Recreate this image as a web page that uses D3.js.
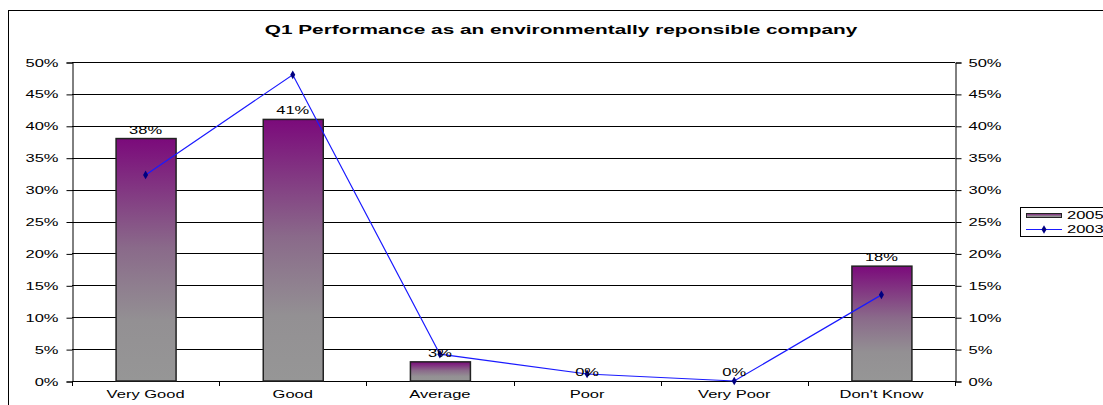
<!DOCTYPE html>
<html>
<head>
<meta charset="utf-8">
<script src="https://cdn.jsdelivr.net/npm/d3@7"></script>
<style>
  html, body { margin: 0; padding: 0; background: #fff; }
  svg { display: block; font-family: Arial, "Liberation Sans", sans-serif; }
</style>
</head>
<body>
<svg id="chart" width="1103" height="405"></svg>
<script>
// Survey answers and shares per year
const categories = ["Very Good", "Good", "Average", "Poor", "Very Poor", "Don't Know"];
const values2005 = [0.38, 0.41, 0.03, 0.00, 0.00, 0.18];
const values2003 = [0.323, 0.48, 0.042, 0.011, 0.00, 0.135];
const yTicks = [0, 0.05, 0.10, 0.15, 0.20, 0.25, 0.30, 0.35, 0.40, 0.45, 0.50];
const seriesNames = ["2005", "2003"];
const title = "Q1 Performance as an environmentally reponsible company";

// The chart's lettering is horizontally stretched
const textStretch = 1.5;
const titleStretch = 1.6;

const svg = d3.select("#chart");
const plot = { left: 72, right: 955, top: 62, bottom: 381 };

// Outer chart frame
svg.append("rect")
  .attr("x", 8.5).attr("y", 10.5)
  .attr("width", 1120).attr("height", 420)
  .attr("fill", "#fff").attr("stroke", "#000").attr("stroke-width", 1);

// Bar gradient: purple at the top fading to grey
const defs = svg.append("defs");
const grad = defs.append("linearGradient")
  .attr("id", "barFill").attr("x1", 0).attr("y1", 0).attr("x2", 0).attr("y2", 1);
grad.append("stop").attr("offset", "0%").attr("stop-color", "#7b0a7b");
grad.append("stop").attr("offset", "45%").attr("stop-color", "#8a6a8a");
grad.append("stop").attr("offset", "75%").attr("stop-color", "#939093");
grad.append("stop").attr("offset", "100%").attr("stop-color", "#969696");

const x = d3.scaleBand().domain(categories).range([plot.left, plot.right]);
const y = d3.scaleLinear().domain([0, 0.5]).range([plot.bottom, plot.top]);
const pct = d3.format(".0%");

// Horizontal gridlines
svg.append("g").selectAll("line").data(yTicks).join("line")
  .attr("x1", plot.left).attr("x2", plot.right)
  .attr("y1", d => Math.round(y(d)) + 0.5).attr("y2", d => Math.round(y(d)) + 0.5)
  .attr("stroke", "#000").attr("stroke-width", 1);

// Left and right value axes
const leftAxis = d3.axisLeft(y).tickValues(yTicks).tickFormat(pct).tickSizeOuter(0).tickSize(6);
const rightAxis = d3.axisRight(y).tickValues(yTicks).tickFormat(pct).tickSizeOuter(0).tickSize(6);
const gl = svg.append("g").attr("transform", `translate(${plot.left + 0.5},0.5)`).call(leftAxis);
const gr = svg.append("g").attr("transform", `translate(${plot.right + 0.5},0.5)`).call(rightAxis);
gl.selectAll(".tick text").attr("x", -14 / textStretch);
gr.selectAll(".tick text").attr("x", 13 / textStretch);

// Category axis with ticks between categories
const xAxis = d3.axisBottom(x).tickSize(0).tickPadding(9);
const gx = svg.append("g").attr("transform", `translate(0,${plot.bottom + 0.5})`).call(xAxis);
gx.select(".domain").attr("d", `M${plot.left},0H${plot.right}`);
svg.append("g").selectAll("line")
  .data(d3.range(categories.length + 1))
  .join("line")
  .attr("x1", i => Math.round(plot.left + i * x.step()) + 0.5)
  .attr("x2", i => Math.round(plot.left + i * x.step()) + 0.5)
  .attr("y1", plot.bottom).attr("y2", plot.bottom + 5)
  .attr("stroke", "#000");

svg.selectAll(".tick text").attr("font-size", 11).attr("fill", "#000")
  .attr("font-family", "Arial, 'Liberation Sans', sans-serif")
  .attr("transform", `scale(${textStretch},1)`);
svg.selectAll(".domain, .tick line").attr("stroke", "#000");

// 2005 bars
const barW = 60;
svg.append("g").selectAll("rect").data(categories).join("rect")
  .attr("x", (c) => x(c) + x.bandwidth() / 2 - barW / 2 + 0.5)
  .attr("y", (c, i) => y(values2005[i]))
  .attr("width", barW)
  .attr("height", (c, i) => y(0) - y(values2005[i]))
  .attr("fill", "url(#barFill)")
  .attr("stroke", (c, i) => values2005[i] > 0 ? "#222" : "none")
  .attr("stroke-width", 1.5);

// 2003 line with diamond markers
const line = d3.line()
  .x((d, i) => x(categories[i]) + x.bandwidth() / 2)
  .y(d => y(d));
svg.append("path").datum(values2003)
  .attr("d", line).attr("fill", "none")
  .attr("stroke", "#1a1aff").attr("stroke-width", 1.2);
svg.append("g").selectAll("path").data(values2003).join("path")
  .attr("d", d3.symbol(d3.symbolDiamond, 22))
  .attr("transform", (d, i) => `translate(${x(categories[i]) + x.bandwidth() / 2},${y(d)})`)
  .attr("fill", "#000080");

// Value labels for the 2005 bars
svg.append("g").selectAll("text").data(categories).join("text")
  .attr("transform", (c, i) =>
    `translate(${x(c) + x.bandwidth() / 2},${y(values2005[i]) - 5}) scale(${textStretch},1)`)
  .attr("text-anchor", "middle")
  .attr("font-size", 11).attr("fill", "#000")
  .text((c, i) => pct(values2005[i]));

// Title
svg.append("text")
  .attr("transform", `translate(561,34) scale(${titleStretch},1)`)
  .attr("text-anchor", "middle")
  .attr("font-size", 13).attr("font-weight", "bold")
  .text(title);

// Legend
const lg = svg.append("g").attr("transform", "translate(1020,207)");
lg.append("rect").attr("x", 0.5).attr("y", 0.5).attr("width", 100).attr("height", 29)
  .attr("fill", "#fff").attr("stroke", "#000");
lg.append("rect").attr("x", 6.5).attr("y", 6.5).attr("width", 35).attr("height", 4)
  .attr("fill", "url(#barFill)").attr("stroke", "#222");
lg.append("line").attr("x1", 6).attr("x2", 42).attr("y1", 22.5).attr("y2", 22.5)
  .attr("stroke", "#1a1aff").attr("stroke-width", 1.2);
lg.append("path").attr("d", d3.symbol(d3.symbolDiamond, 22))
  .attr("transform", "translate(24,22.5)").attr("fill", "#000080");
lg.selectAll("text.leg").data(seriesNames).join("text")
  .attr("class", "leg")
  .attr("transform", (d, i) => `translate(47,${12 + i * 14}) scale(${textStretch},1)`)
  .attr("font-size", 11).attr("fill", "#000")
  .text(d => d);
</script>
</body>
</html>
